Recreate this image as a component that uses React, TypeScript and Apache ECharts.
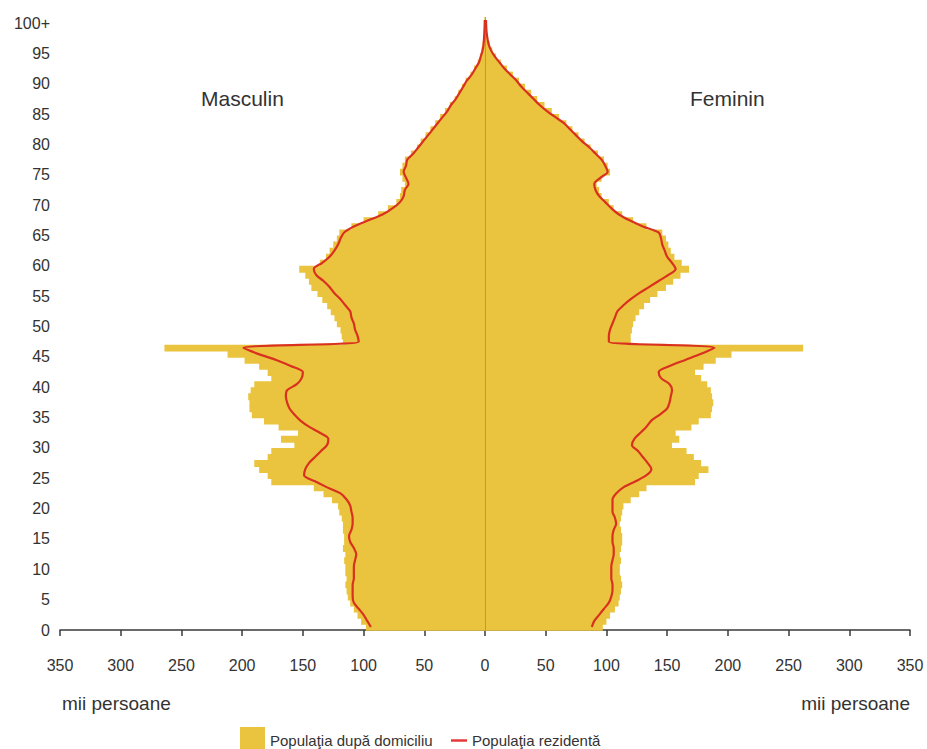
import React, { useEffect, useRef } from "react";
import * as echarts from "echarts";

// Ages 0 .. 100+ (index = age)
const ageLabels: string[] = Array.from({ length: 101 }, (_, i) => (i === 100 ? "100+" : String(i)));

// Masculin – populaţia după domiciliu (mii persoane)
const maleDomicile: number[] = [
  98, 102, 105, 108, 111, 113, 114, 115, 114, 115,
  115, 116, 115, 117, 116, 116, 117, 117, 118, 120,
  121, 126, 133, 141, 176, 179, 186, 190, 179, 176,
  157, 168, 154, 170, 182, 192, 194, 194, 195, 193,
  190, 176, 179, 186, 198, 212, 264, 117, 118, 119,
  122, 124, 127, 130, 134, 138, 143, 145, 148, 153,
  136, 131, 128, 125, 122, 120, 110, 100, 88, 80,
  73, 70, 69, 66, 68, 70, 68, 66, 61, 56,
  53, 49, 45, 41, 37, 33, 29, 25, 22, 19,
  16, 12, 9, 6, 4, 3, 2, 1.5, 1, 0.6,
  0.5,
];

// Masculin – populaţia rezidentă
const maleResident: number[] = [
  94, 97, 100, 104, 108, 109, 109, 109, 108, 108,
  108, 107, 106, 108, 111, 112, 110, 109, 109, 110,
  111, 114, 119, 130, 140, 149, 148, 145, 140, 135,
  130, 129, 136, 145, 152, 157, 161, 163, 164, 163,
  155, 151, 150, 160, 172, 187, 199, 104, 105, 107,
  108, 110, 111, 115, 119, 124, 128, 133, 139, 141,
  134, 128, 124, 121, 119, 116, 108, 96, 84, 76,
  70, 67, 66, 63, 65, 67, 65, 64, 59, 55,
  51, 47, 43, 39, 35, 31, 28, 24, 21, 18,
  15, 11, 8, 5, 3.5, 2, 1.2, 0.8, 0.5, 0.3,
  0.2,
];

// Feminin – populaţia după domiciliu
const femaleDomicile: number[] = [
  97, 100, 103, 107, 110, 111, 112, 113, 112, 111,
  111, 112, 111, 112, 113, 113, 112, 111, 112, 113,
  114, 120, 127, 133, 173, 176, 184, 178, 172, 166,
  154, 160, 157, 170, 176, 186, 187, 188, 187, 186,
  183, 178, 173, 180, 190, 203, 262, 120, 120, 121,
  122, 124, 127, 131, 136, 142, 149, 155, 161, 168,
  162, 156, 153, 151, 149, 146, 133, 122, 113, 106,
  102, 96, 94, 92, 96, 103, 101, 98, 93, 87,
  82, 77, 72, 67, 61, 55, 49, 43, 38, 33,
  28, 23, 18, 13, 9, 6, 4, 2.5, 1.5, 1,
  0.8,
];

// Feminin – populaţia rezidentă
const femaleResident: number[] = [
  88, 90, 94, 98, 102, 104, 105, 105, 104, 104,
  104, 105, 106, 106, 105, 105, 106, 108, 107, 105,
  105, 105, 108, 114, 124, 133, 137, 134, 130, 126,
  121, 123, 128, 133, 137, 144, 150, 152, 153, 154,
  152, 145, 143, 152, 165, 178, 189, 102, 102, 103,
  105, 107, 109, 114, 120, 127, 135, 143, 151, 157,
  154, 150, 148, 146, 145, 143, 130, 119, 110, 104,
  99, 94, 91, 90, 95, 101, 99, 96, 91, 86,
  80, 75, 70, 65, 58, 51, 45, 40, 35, 30,
  26, 21, 16, 12, 8, 5, 3, 2, 1.3, 1,
  0.8,
];

const xTickValues: number[] = [-350, -300, -250, -200, -150, -100, -50, 0, 50, 100, 150, 200, 250, 300, 350];

const NAME_DOM = "Populaţia după domiciliu";
const NAME_RES = "Populaţia rezidentă";
const YELLOW = "#EAC43E";
const RED = "#D9311F";
const LEGEND_RED = "#E5383B";
const FONT = "'Liberation Sans', Arial, sans-serif";
const TEXT = "#333333";

export default function App() {
  const ref = useRef<HTMLDivElement | null>(null);

  useEffect(() => {
    document.body.style.margin = "0";
    if (!ref.current) return;
    const chart = echarts.init(ref.current, undefined, { renderer: "svg" });

    const barItem = (params: any, api: any) => {
      const v = api.value(0);
      const a = api.value(1);
      const p0 = api.coord([0, a + 1]);
      const p1 = api.coord([v, a]);
      const x = Math.min(p0[0], p1[0]);
      const w = Math.abs(p1[0] - p0[0]);
      return {
        type: "rect",
        shape: { x, y: p0[1], width: w, height: p1[1] - p0[1] + 0.8 },
        style: { fill: YELLOW },
      };
    };

    const maleBars = maleDomicile.map((v, i) => [-v, i]);
    const femaleBars = femaleDomicile.map((v, i) => [v, i]);
    const maleLine = maleResident.map((v, i) => [-v, i + 0.5]);
    const femaleLine = femaleResident.map((v, i) => [v, i + 0.5]);

    chart.setOption({
      animation: false,
      textStyle: { fontFamily: FONT },
      grid: { left: 60, right: 17, top: 17, bottom: 119, containLabel: false },
      xAxis: {
        type: "value",
        min: -350,
        max: 350,
        interval: 50,
        axisLine: { show: true, lineStyle: { color: "#3a3a3a", width: 1.5 } },
        axisTick: { show: true, length: 6, lineStyle: { color: "#3a3a3a", width: 1.5 } },
        splitLine: { show: false },
        axisLabel: {
          margin: 27,
          fontSize: 16,
          color: TEXT,
          fontFamily: FONT,
          formatter: (v: number) => (xTickValues.indexOf(v) >= 0 ? String(Math.abs(v)) : ""),
        },
      },
      yAxis: {
        type: "value",
        min: 0,
        max: 101,
        interval: 5,
        axisLine: { show: false },
        axisTick: { show: false },
        splitLine: { show: false },
        axisLabel: {
          margin: 10,
          fontSize: 16,
          color: TEXT,
          fontFamily: FONT,
          showMaxLabel: false,
          formatter: (v: number) => (v % 5 === 0 && v <= 100 ? ageLabels[v] : ""),
        },
      },
      legend: [
        {
          data: [{ name: NAME_DOM, icon: "rect" }],
          left: 235,
          top: 722,
          itemWidth: 25,
          itemHeight: 27,
          selectedMode: false,
          textStyle: { fontSize: 15, color: TEXT, fontFamily: FONT },
        },
        {
          data: [{ name: NAME_RES, icon: "rect", itemStyle: { color: LEGEND_RED } }],
          left: 446,
          top: 728,
          itemWidth: 16,
          itemHeight: 2.5,
          selectedMode: false,
          textStyle: { fontSize: 15, color: TEXT, fontFamily: FONT },
        },
      ],
      series: [
        {
          type: "custom",
          name: NAME_DOM,
          renderItem: barItem,
          encode: { x: 0, y: 1 },
          data: maleBars,
          itemStyle: { color: YELLOW },
          z: 1,
          silent: true,
        },
        {
          type: "custom",
          name: NAME_DOM,
          renderItem: barItem,
          encode: { x: 0, y: 1 },
          data: femaleBars,
          itemStyle: { color: YELLOW },
          z: 1,
          silent: true,
        },
        {
          type: "line",
          name: NAME_RES,
          data: maleLine,
          showSymbol: false,
          symbol: "none",
          smooth: 0.3,
          lineStyle: { color: RED, width: 2.2 },
          itemStyle: { color: RED },
          z: 3,
          silent: true,
          markLine: {
            silent: true,
            symbol: "none",
            label: { show: false },
            lineStyle: { color: "#B89A48", width: 1, type: "solid" },
            data: [{ xAxis: 0 }],
            z: 2,
          },
        },
        {
          type: "line",
          name: NAME_RES,
          data: femaleLine,
          showSymbol: false,
          symbol: "none",
          smooth: 0.3,
          lineStyle: { color: RED, width: 2.2 },
          itemStyle: { color: RED },
          z: 3,
          silent: true,
        },
      ],
      graphic: [
        {
          type: "text",
          left: 201,
          top: 88,
          style: { text: "Masculin", fontSize: 21, fill: TEXT, fontFamily: FONT },
        },
        {
          type: "text",
          left: 690,
          top: 88,
          style: { text: "Feminin", fontSize: 21, fill: TEXT, fontFamily: FONT },
        },
        {
          type: "text",
          left: 62,
          top: 694,
          style: { text: "mii persoane", fontSize: 19, fill: TEXT, fontFamily: FONT },
        },
        {
          type: "text",
          right: 17,
          top: 694,
          style: { text: "mii persoane", fontSize: 19, fill: TEXT, fontFamily: FONT },
        },
      ],
    });

    return () => chart.dispose();
  }, []);

  return <div ref={ref} style={{ width: 927, height: 749 }} />;
}
